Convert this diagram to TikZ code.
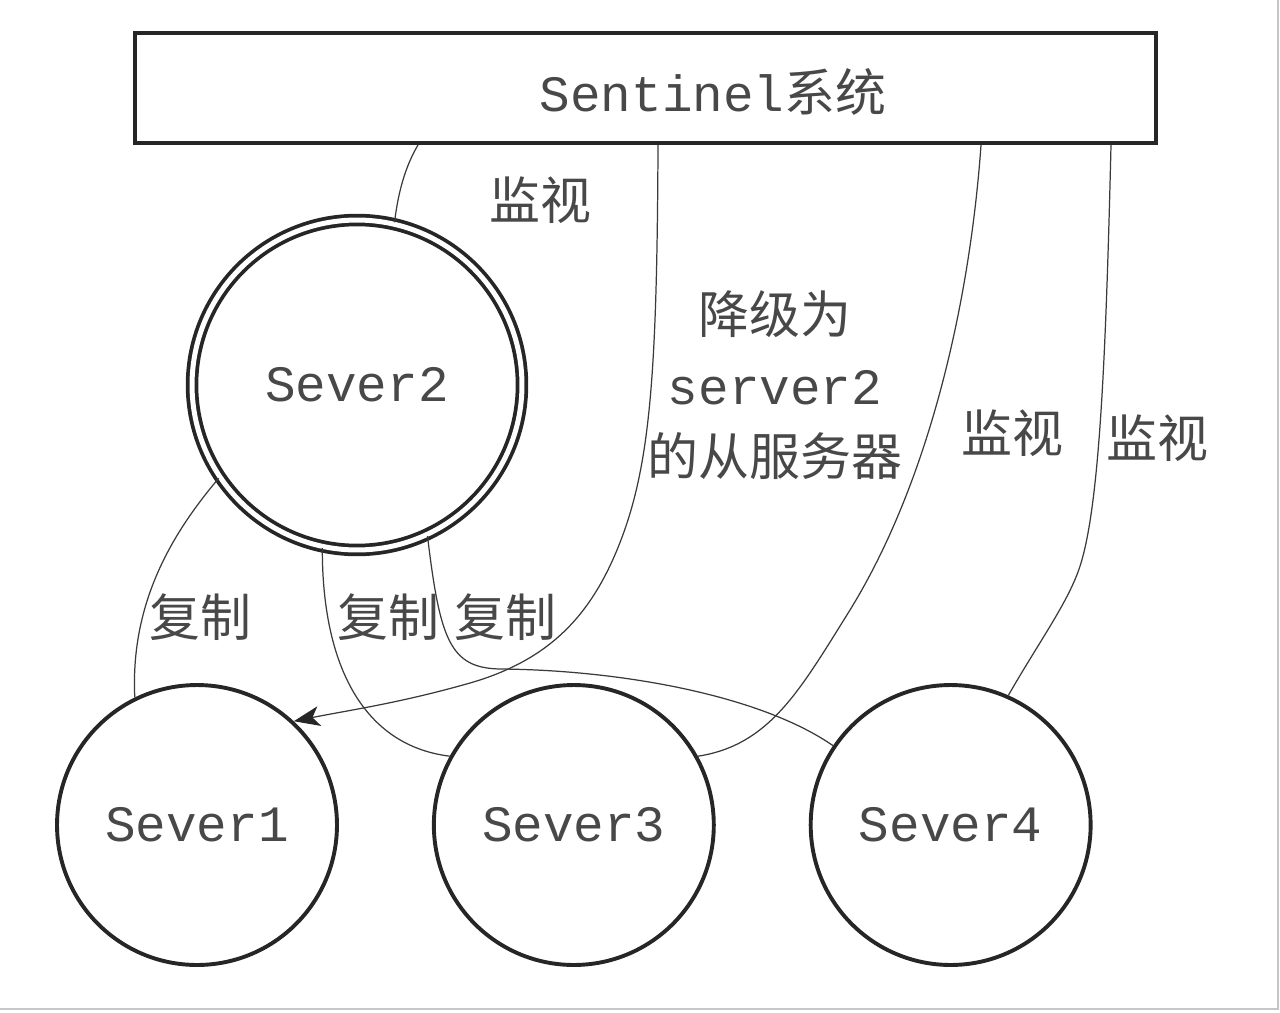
\documentclass[tikz,border=0pt]{standalone}
\usepackage{fontspec}
\setmonofont{Liberation Mono}
\newfontfamily\cjk{Noto Sans CJK SC}
\usetikzlibrary{arrows.meta,positioning}
\definecolor{inkgray}{HTML}{262626}
\definecolor{txtgray}{HTML}{484848}
\definecolor{wiregray}{HTML}{3A3A3A}

\begin{document}
\begin{tikzpicture}[
    x=0.02cm, y=-0.02cm,
    node distance=1.86cm,
    box/.style={draw=inkgray, line width=0.08cm, minimum width=20.42cm, minimum height=2.2cm, inner sep=0pt},
    srv/.style={circle, draw=inkgray, line width=0.078cm, minimum size=5.6cm, inner sep=0pt, font=\fontsize{29}{34}\selectfont\ttfamily, text=txtgray},
    master/.style={srv, double=white, double distance=0.1cm, line width=0.075cm, minimum size=6.6cm},
    lbl/.style={font=\fontsize{29}{40.4}\selectfont\cjk, text=txtgray, align=center},
    conn/.style={draw=wiregray, line width=0.7pt},
    arr/.style={conn, -{Stealth[length=5.2mm, width=4mm, inset=1.4mm, color=inkgray]}},
  ]
  \useasboundingbox (0,0) rectangle (1280,1013);
  \draw[gray!45, line width=0.6pt] (0,1009) -- (1278,1009) -- (1278,0);

  % Sentinel system
  \node[box] (sent) at (645.5,88) {};
  \node[lbl] (sentlbl) at (713,92) {{\ttfamily Sentinel}系统};

  % servers
  \node[master] (s2) at (357,385) {Sever2};
  \node[srv] (s1) at (197,825) {Sever1};
  \node[srv, right=of s1] (s3) {Sever3};
  \node[srv, right=of s3] (s4) {Sever4};

  % monitoring links
  \draw[conn] (sent.south -| 418,0) .. controls (408,162) and (399,185) .. (s2.77);
  \draw[conn] (sent.south -| 981,0) .. controls (970,300) and (930,480) .. (850,610)
    .. controls (800,690) and (770,745) .. (s3.29);
  \draw[conn] (sent.south -| 1111,0) .. controls (1106,350) and (1100,500) .. (1081,563)
    .. controls (1070,600) and (1040,640) .. (s4.66);

  % demote command
  \draw[arr] (sent.south -| 658,0) .. controls (657,380) and (650,470) .. (617,550)
    .. controls (590,615) and (550,660) .. (470,683)
    .. controls (400,703) and (350,710) .. (s1.47);

  % replication links
  \draw[conn] (s2.214) .. controls (175,530) and (130,600) .. (s1.116);
  \draw[conn] (s2.258) .. controls (322,660) and (360,745) .. (s3.151);
  \draw[conn] (s2.295) .. controls (440,640) and (450,668) .. (500,669)
    .. controls (620,670) and (760,695) .. (s4.146);

  % labels
  \node[lbl] (mon2) at (540,200) {监视};
  \node[lbl] (demote) at (775,385) {降级为\\{\ttfamily server2}\\的从服务器};
  \node[lbl] (mon3) at (1012,433) {监视};
  \node[lbl] (mon4) at (1157,438) {监视};
  \node[lbl] (rep1) at (200,617) {复制};
  \node[lbl] (rep3) at (388,617) {复制};
  \node[lbl] (rep4) at (505,617) {复制};
\end{tikzpicture}
\end{document}
